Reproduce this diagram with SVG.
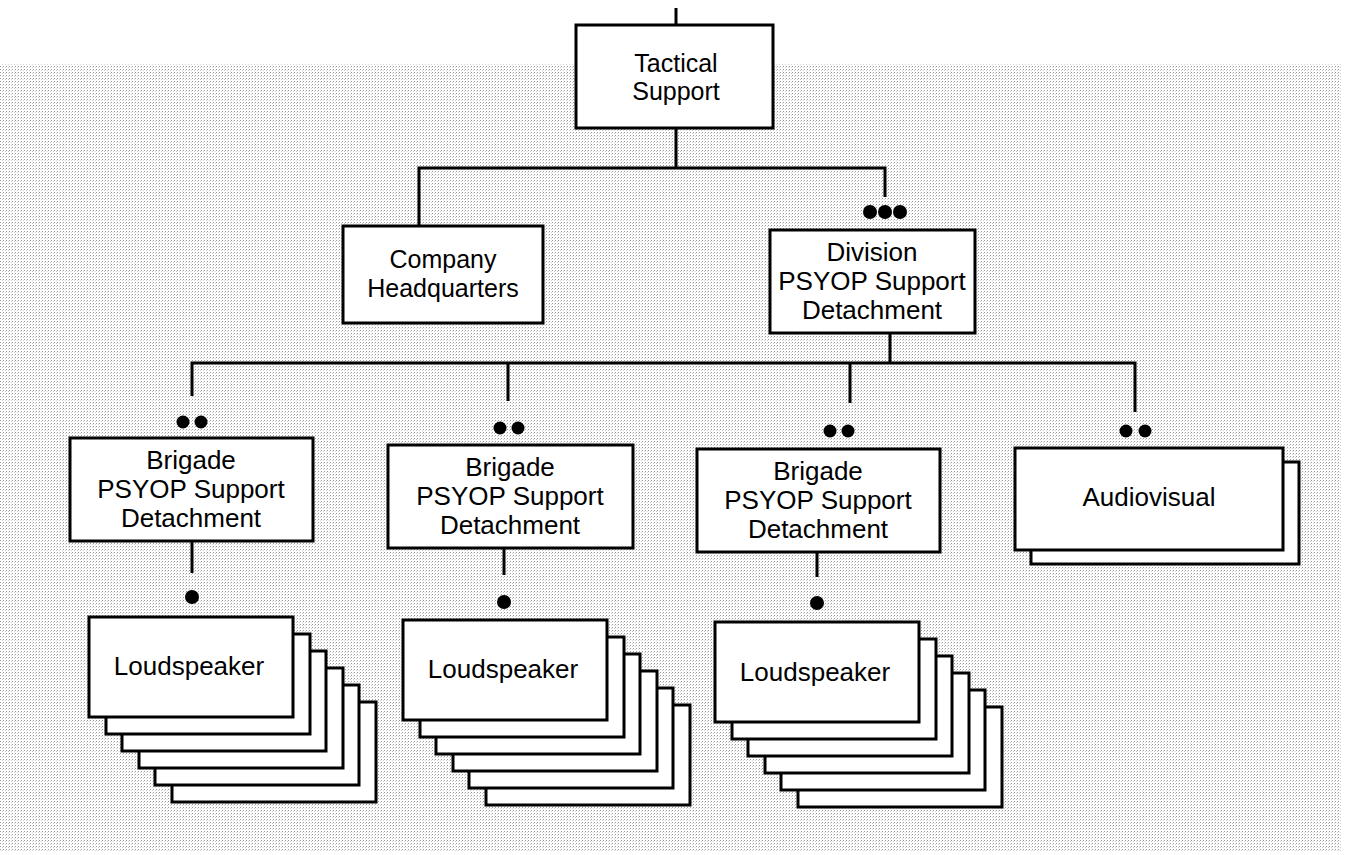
<svg xmlns="http://www.w3.org/2000/svg" width="1347" height="855" viewBox="0 0 1347 855">
<defs>
<pattern id="dither" patternUnits="userSpaceOnUse" width="3" height="3">
<rect x="0" y="0" width="1" height="1" fill="#9a9a9a"/>
<rect x="2" y="1" width="1" height="1" fill="#d0d0d0"/>
</pattern>
<g id="ls">
<rect x="83" y="85" width="204" height="100"/>
<rect x="66" y="68" width="204" height="100"/>
<rect x="50" y="51" width="204" height="100"/>
<rect x="33" y="34" width="204" height="100"/>
<rect x="17" y="17" width="204" height="100"/>
<rect x="0" y="0" width="204" height="100"/>
</g>
<g id="av">
<rect x="16" y="14" width="268" height="102"/>
<rect x="0" y="0" width="268" height="102"/>
</g>
</defs>
<style>
rect.box, #ls rect, #av rect { fill: #fff; stroke: #000; stroke-width: 3; }
.conn line, .conn path { stroke: #000; stroke-width: 3; fill: none; }
.dot { fill: #000; }
text { font-family: "Liberation Sans", Arial, sans-serif; font-size: 25px; fill: #000; text-anchor: middle; }
text.l { font-size: 26px; }
</style>
<rect x="0" y="0" width="1347" height="855" fill="#fff"/>
<rect x="0" y="64" width="1341" height="788" fill="url(#dither)"/>

<g class="conn" id="connectors">
<line x1="676" y1="8" x2="676" y2="25"/>
<line x1="676" y1="128" x2="676" y2="168"/>
<path d="M419 226 V168 H885 V197"/>
<line x1="890" y1="333" x2="890" y2="363"/>
<path d="M192 396 V363 H1135 V412"/>
<line x1="508" y1="363" x2="508" y2="401"/>
<line x1="850" y1="363" x2="850" y2="403"/>
<line x1="192" y1="541" x2="192" y2="573"/>
<line x1="504" y1="548" x2="504" y2="575"/>
<line x1="817" y1="552" x2="817" y2="577"/>
</g>

<g id="tactical-support">
<rect class="box" x="576" y="25" width="197" height="103"/>
<text x="676" y="72">Tactical</text>
<text x="676" y="100">Support</text>
</g>

<g id="company-hq">
<rect class="box" x="343" y="226" width="200" height="97"/>
<text x="443" y="268">Company</text>
<text x="443" y="297">Headquarters</text>
</g>

<g id="division">
<circle class="dot" cx="870" cy="212" r="7"/>
<circle class="dot" cx="885" cy="212" r="7"/>
<circle class="dot" cx="900" cy="212" r="7"/>
<rect class="box" x="770" y="230" width="205" height="103"/>
<text class="l" x="872" y="261">Division</text>
<text class="l" x="872" y="290">PSYOP Support</text>
<text class="l" x="872" y="319">Detachment</text>
</g>

<g id="brigade-1">
<circle class="dot" cx="183" cy="422" r="6.5"/>
<circle class="dot" cx="201" cy="422" r="6.5"/>
<rect class="box" x="70" y="438" width="243" height="103"/>
<text class="l" x="191" y="469">Brigade</text>
<text class="l" x="191" y="498">PSYOP Support</text>
<text class="l" x="191" y="527">Detachment</text>
</g>

<g id="brigade-2">
<circle class="dot" cx="500" cy="428" r="6.5"/>
<circle class="dot" cx="518" cy="428" r="6.5"/>
<rect class="box" x="388" y="445" width="245" height="103"/>
<text class="l" x="510" y="476">Brigade</text>
<text class="l" x="510" y="505">PSYOP Support</text>
<text class="l" x="510" y="534">Detachment</text>
</g>

<g id="brigade-3">
<circle class="dot" cx="830" cy="431" r="6.5"/>
<circle class="dot" cx="848" cy="431" r="6.5"/>
<rect class="box" x="697" y="449" width="243" height="103"/>
<text class="l" x="818" y="480">Brigade</text>
<text class="l" x="818" y="509">PSYOP Support</text>
<text class="l" x="818" y="538">Detachment</text>
</g>

<g id="audiovisual">
<circle class="dot" cx="1126" cy="431" r="6.5"/>
<circle class="dot" cx="1145" cy="431" r="6.5"/>
<use href="#av" x="1015" y="448"/>
<text class="l" x="1149" y="506">Audiovisual</text>
</g>

<g id="loudspeaker-1">
<circle class="dot" cx="192" cy="597" r="7"/>
<use href="#ls" x="89" y="617"/>
<text class="l" x="189" y="675">Loudspeaker</text>
</g>

<g id="loudspeaker-2">
<circle class="dot" cx="504" cy="602" r="7"/>
<use href="#ls" x="403" y="620"/>
<text class="l" x="503" y="678">Loudspeaker</text>
</g>

<g id="loudspeaker-3">
<circle class="dot" cx="817" cy="603" r="7"/>
<use href="#ls" x="715" y="622"/>
<text class="l" x="815" y="681">Loudspeaker</text>
</g>
</svg>
